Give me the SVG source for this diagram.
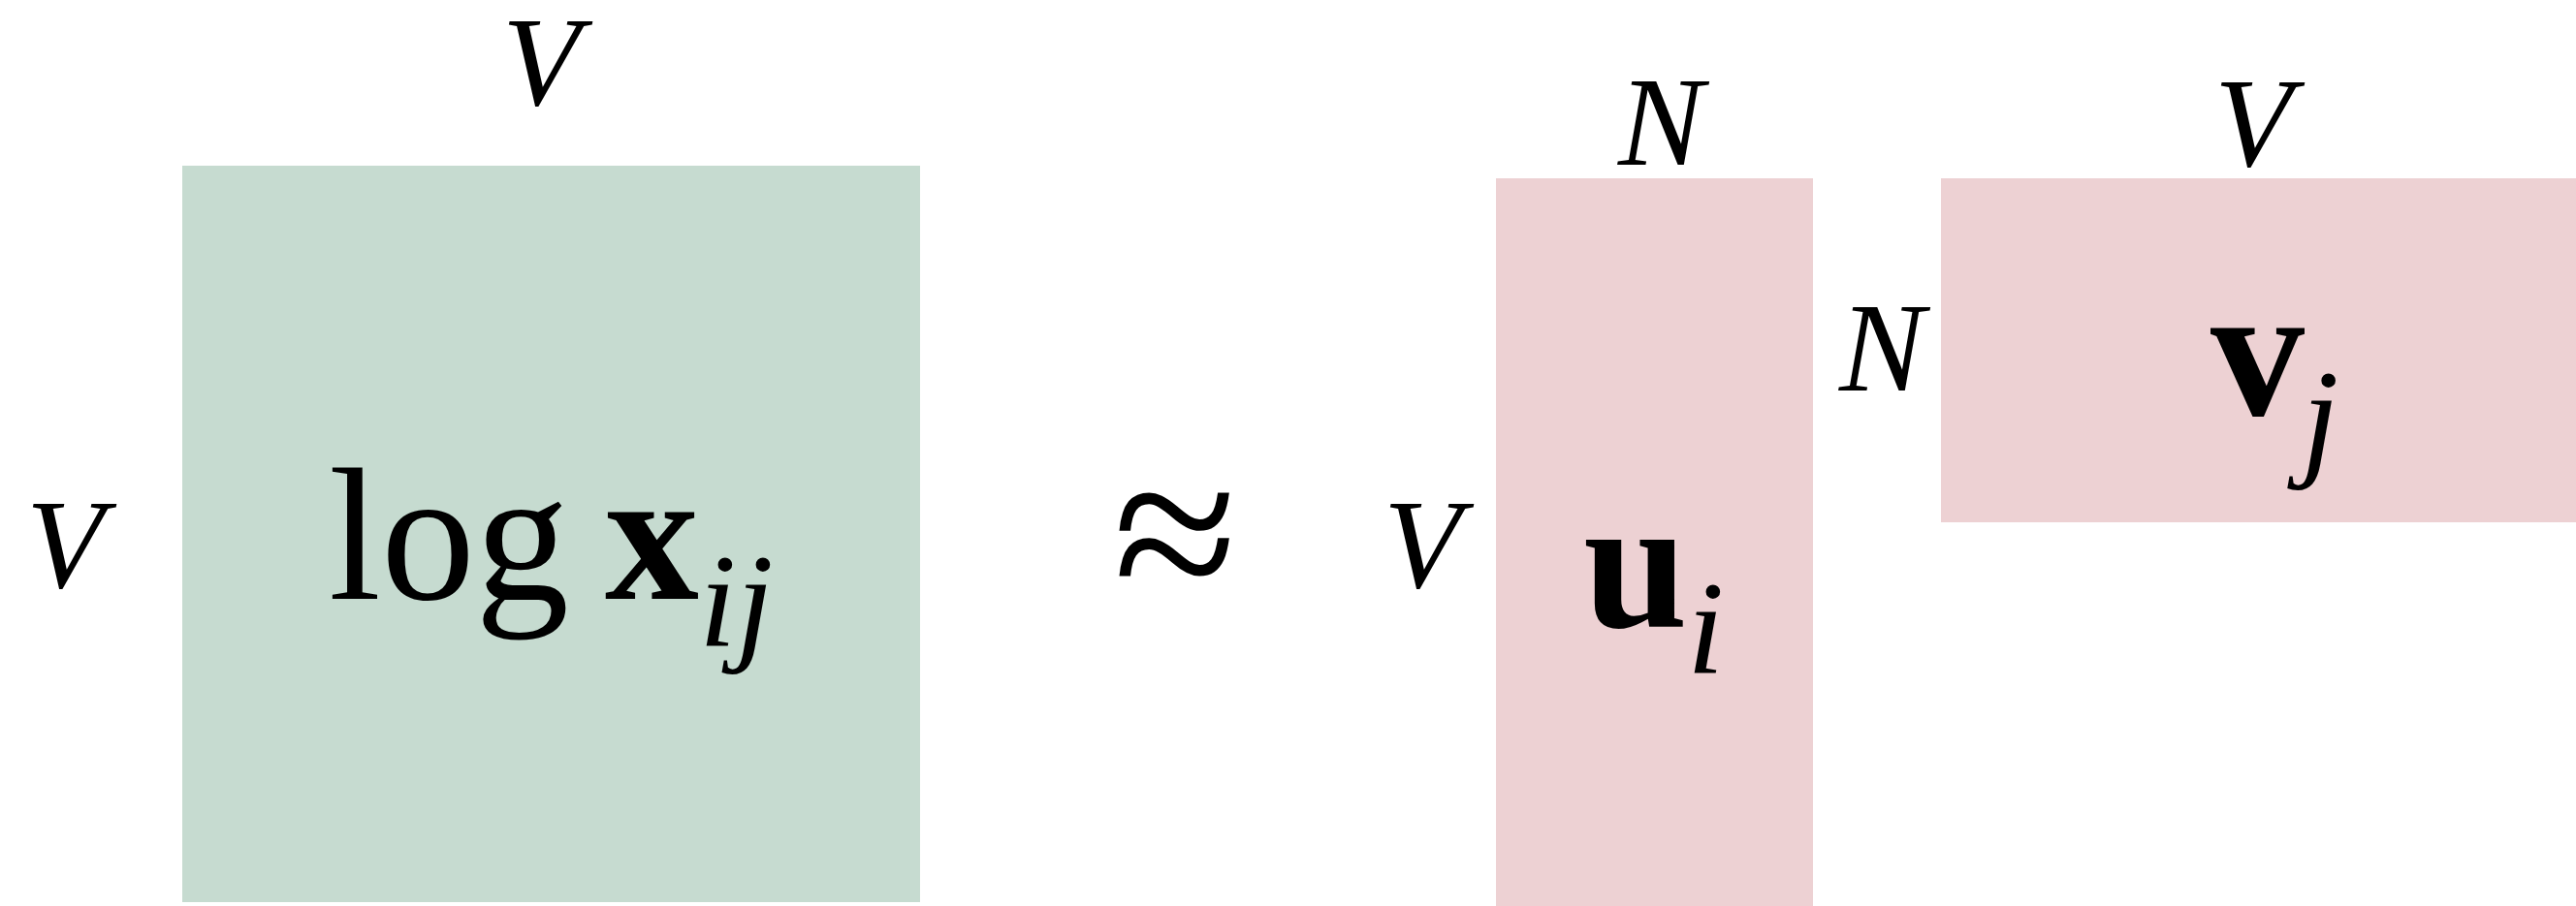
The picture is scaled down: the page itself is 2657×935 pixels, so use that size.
<svg xmlns="http://www.w3.org/2000/svg" width="2657" height="935" viewBox="0 0 2657 935">
<style>
.b{font-weight:bold}
.dim{font-size:132px;font-style:italic}
.main{font-size:194px}
.sub{font-size:138px;font-style:italic}
.green{fill:#c6dbd0}
.pink{fill:#edd1d3}
</style>
<rect width="2657" height="935" fill="#ffffff"/>
<g id="matrix-X" font-family="'Liberation Serif', 'Times New Roman', serif" fill="#000">
<rect class="green" x="188" y="171" width="761" height="760"/>
<text class="main" x="339" y="618">log</text>
<text class="main b" x="624" y="618">x</text>
<text class="sub" x="721" y="667">ij</text>
<text class="dim" x="518" y="108">V</text>
<text class="dim" x="27" y="606">V</text>
</g>
<g id="approx" font-family="'Liberation Serif', 'Times New Roman', serif" fill="#000">
<text font-size="234" x="1148" y="629">≈</text>
</g>
<g id="matrix-U" font-family="'Liberation Serif', 'Times New Roman', serif" fill="#000">
<rect class="pink" x="1543" y="184" width="327" height="751"/>
<text class="main b" x="1633" y="647">u</text>
<text class="sub" x="1740" y="695">i</text>
<text class="dim" x="1427" y="606">V</text>
<text class="dim" x="1669" y="170">N</text>
</g>
<g id="matrix-V" font-family="'Liberation Serif', 'Times New Roman', serif" fill="#000">
<rect class="pink" x="2002" y="184" width="655" height="355"/>
<text class="main b" x="2280" y="428">v</text>
<text class="sub" x="2374" y="477">j</text>
<text class="dim" x="2284" y="171">V</text>
<text class="dim" x="1897" y="403">N</text>
</g>
<g id="connectors"/>
</svg>
